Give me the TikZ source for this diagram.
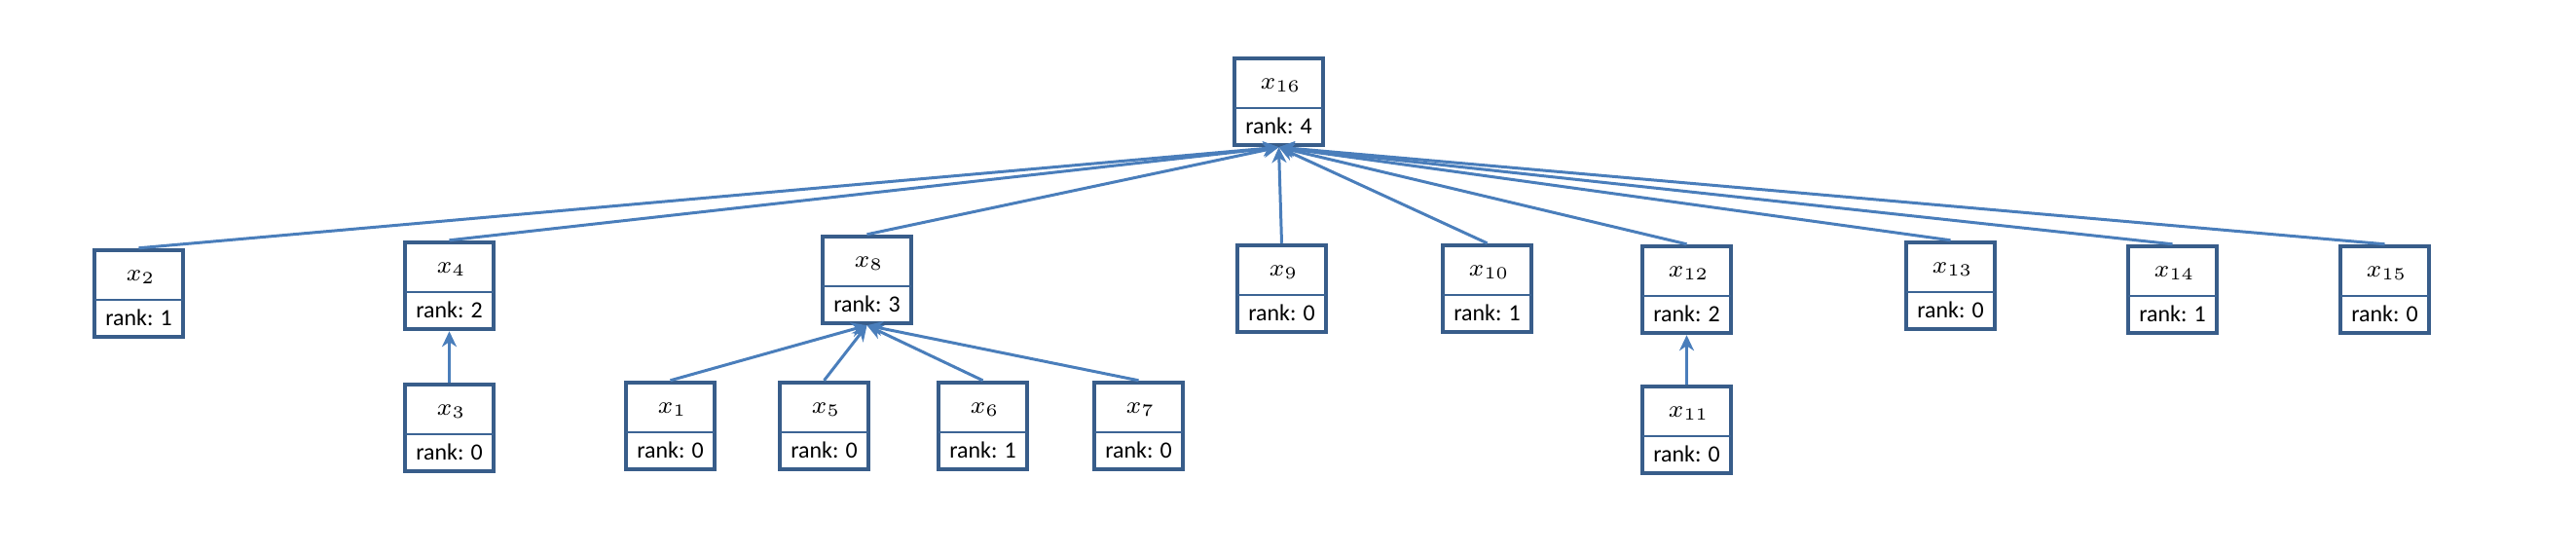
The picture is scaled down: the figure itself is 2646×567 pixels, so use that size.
\documentclass[tikz,border=0pt]{standalone}
\usepackage{fontspec}
\newfontfamily\rankfont{Carlito}
\usetikzlibrary{arrows.meta,calc}
\definecolor{boxborder}{HTML}{385D8A}
\definecolor{linkblue}{HTML}{4A7EBB}
\tikzset{
  rbox/.style={draw=boxborder, line width=1.25pt, fill=white, minimum width=0.91cm, minimum height=0.89cm, inner sep=0pt},
  divline/.style={draw=boxborder!80!linkblue, line width=0.4pt},
  lbl/.style={inner sep=0pt, font=\fontsize{7.4}{9}\selectfont},
  rk/.style={inner sep=0pt, font=\rankfont\fontsize{6.8}{8}\selectfont},
  link/.style={draw=linkblue, line width=0.85pt, -{Stealth[length=0.16cm, width=0.15cm, inset=0.05cm]}}
}
\newcommand{\rknode}[5]{%
  \node[rbox] (#1) at (#2,#3) {};
  \draw[divline] ($(#1.west)+(2,6.5)$) -- ($(#1.east)+(-2,6.5)$);
  \node[lbl] (#1l) at ($(#1.center)+(2,-17)$) {$x_{#4}$};
  \node[rk] (#1r) at ($(#1.center)+(0,25)$) {rank: #5};
}
\begin{document}
\begin{tikzpicture}[x=0.01cm, y=-0.01cm]
\useasboundingbox[fill=white] (0,0) rectangle (2646,567);
\rknode{x16}{1313.5}{104.5}{16}{4}
\rknode{x2}{142.5}{301.5}{2}{1}
\rknode{x4}{461.5}{293.5}{4}{2}
\rknode{x3}{461.5}{439.5}{3}{0}
\rknode{x8}{890.5}{287.5}{8}{3}
\rknode{x1}{688.5}{437.5}{1}{0}
\rknode{x5}{846.5}{437.5}{5}{0}
\rknode{x6}{1009.5}{437.5}{6}{1}
\rknode{x7}{1169.5}{437.5}{7}{0}
\rknode{x9}{1316.5}{296.5}{9}{0}
\rknode{x10}{1527.5}{296.5}{10}{1}
\rknode{x12}{1732.5}{297.5}{12}{2}
\rknode{x11}{1732.5}{441.5}{11}{0}
\rknode{x13}{2003.5}{293.5}{13}{0}
\rknode{x14}{2231.5}{297.5}{14}{1}
\rknode{x15}{2449.5}{297.5}{15}{0}
\foreach \c in {x2,x4,x8,x9,x10,x12,x13,x14,x15}
  \draw[link] (\c.north) -- (x16.south);
\draw[link] (x3.north) -- (x4.south);
\draw[link] (x11.north) -- (x12.south);
\foreach \c in {x1,x5,x6,x7}
  \draw[link] (\c.north) -- (x8.south);
\end{tikzpicture}
\end{document}
